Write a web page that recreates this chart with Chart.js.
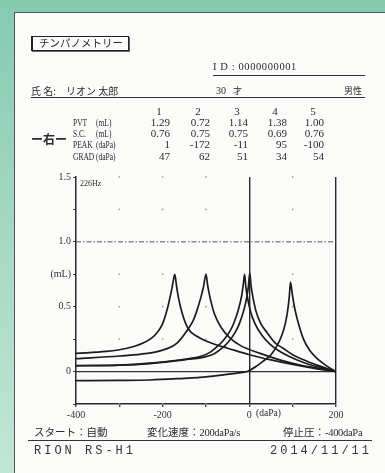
<!DOCTYPE html>
<html lang="ja">
<head>
<meta charset="UTF-8">
<title>チンパノメトリー</title>
<script src="https://cdn.jsdelivr.net/npm/chart.js"></script>
<style>
  html, body { margin: 0; padding: 0; }
  body {
    width: 385px; height: 473px; position: relative; overflow: hidden;
    background: linear-gradient(to bottom, #86cab2, #c2e6d7);
    font-family: "Liberation Serif", serif; color: #2a2a2a;
  }
  #paper {
    position: absolute; left: 14px; top: 12px; width: 371px; height: 461px;
    background: #fbfbfa; border-left: 1.5px solid #555; border-top: 1.5px solid #555;
  }
  #chart { position: absolute; left: 0; top: 0; z-index: 2; }
  .t { position: absolute; white-space: nowrap; font-size: 10px; line-height: 1; z-index: 3; }
  .jp { font-family: "Noto Sans CJK JP", sans-serif; }
  .nar { transform: scaleX(0.75); transform-origin: left center; }
  .num { font-size: 11px; text-align: right; width: 30px; }
  .hd { font-size: 11px; text-align: center; width: 12px; }
  .rule { position: absolute; height: 0; border-top: 1px solid #333; z-index: 3; }
  #title {
    left: 31px; top: 36px; padding: 1px 5px 1px 6px; font-size: 10.5px;
    border: 1px solid #222; border-left-width: 2px; box-shadow: 1px 1px 0 #666;
  }
  .mono { font-family: "Liberation Mono", monospace; font-size: 12px; letter-spacing: 3px; color: #333; }
</style>
</head>
<body>
<div id="paper"></div>

<div class="t jp" id="title">チンパノメトリー</div>

<div class="t" style="left:213px; top:62px; font-size:10.5px; letter-spacing:0.6px;">I D : 0000000001</div>
<div class="rule" style="left:213px; top:75px; width:152px;"></div>

<div class="t jp" style="left:31px; top:86px; font-size:10px;">氏&nbsp;名:</div>
<div class="t jp" style="left:66px; top:86px; font-size:10px;">リオン&nbsp;太郎</div>
<div class="t" style="left:216px; top:86px; font-size:10px;">30</div>
<div class="t jp" style="left:233px; top:86px; font-size:9px;">才</div>
<div class="t jp" style="left:344px; top:86px; font-size:9px;">男性</div>
<div class="rule" style="left:31px; top:97px; width:334px;"></div>

<div class="t hd" style="left:153px; top:106px;">1</div>
<div class="t hd" style="left:192px; top:106px;">2</div>
<div class="t hd" style="left:231px; top:106px;">3</div>
<div class="t hd" style="left:269px; top:106px;">4</div>
<div class="t hd" style="left:307px; top:106px;">5</div>

<div class="t jp" style="left:31px; top:133px; font-size:12px; font-weight:bold;">ー右ー</div>

<div id="table"></div>

<div class="t" style="left:80px; top:180px; font-size:8px; z-index:3;">226Hz</div>
<div class="t" style="left:256px; top:409px; font-size:9.5px;">(daPa)</div>

<div class="t jp" style="left:34px; top:427px; font-size:10.5px;">スタート：自動</div>
<div class="t jp" style="left:147px; top:427px; font-size:10.5px;">変化速度：<span style="font-family:'Liberation Serif',serif; letter-spacing:-0.3px;">200daPa/s</span></div>
<div class="t jp" style="left:283px; top:427px; font-size:10.5px;">停止圧：<span style="font-family:'Liberation Serif',serif; letter-spacing:-0.3px;">-400daPa</span></div>
<div class="rule" style="left:28px; top:440px; width:344px; border-top-width:1.5px;"></div>
<div class="t mono" style="left:34px; top:445px;">RION RS-H1</div>
<div class="t mono" style="left:270px; top:445px;">2014/11/11</div>

<canvas id="chart" width="385" height="473"></canvas>

<script>
// measurement table
var rowNames = ['PVT', 'S.C.', 'PEAK', 'GRAD'];
var rowUnits = ['(mL)', '(mL)', '(daPa)', '(daPa)'];
var pvt = ['1.29', '0.72', '1.14', '1.38', '1.00'];
var sc = ['0.76', '0.75', '0.75', '0.69', '0.76'];
var peak = ['1', '-172', '-11', '95', '-100'];
var grad = ['47', '62', '51', '34', '54'];

// axis ticks
var pressureTicks = [-400, -300, -200, -100, 0, 100, 200];
var pressureLabels = ['-400', '', '-200', '', '0', '', '200'];
var complianceTicks = [1.5, 1.25, 1.0, 0.75, 0.5, 0.25, 0, -0.25];
var complianceLabels = ['1.5', '', '1.0', '(mL)', '0.5', '', '0', ''];

// tympanogram curves (pressure daPa, compliance mL)
var curve1Pressure = [-400, -300, -230, -150, -100, -80, -63, -48, -33, -23, -13, -6, -2, 1, 4, 9, 15, 25, 41, 60, 78, 100, 133, 165, 200];
var curve1Value = [0.046, 0.05, 0.062, 0.09, 0.115, 0.14, 0.18, 0.23, 0.30, 0.37, 0.47, 0.57, 0.66, 0.76, 0.66, 0.56, 0.47, 0.38, 0.30, 0.22, 0.18, 0.13, 0.08, 0.04, 0];

var curve2Pressure = [-400, -330, -282, -245, -225, -213, -200, -188, -180, -176, -172, -168, -163, -155, -141, -120, -100, -75, -50, 0, 50, 100, 150, 200];
var curve2Value = [0.14, 0.155, 0.18, 0.22, 0.26, 0.30, 0.37, 0.50, 0.62, 0.69, 0.75, 0.66, 0.56, 0.45, 0.33, 0.27, 0.235, 0.205, 0.18, 0.13, 0.09, 0.055, 0.025, 0];

var curve3Pressure = [-400, -300, -230, -150, -110, -90, -75, -60, -45, -35, -25, -18, -14, -11, -8, -3, 3, 13, 29, 48, 66, 90, 125, 160, 200];
var curve3Value = [0.045, 0.05, 0.065, 0.095, 0.12, 0.15, 0.19, 0.24, 0.31, 0.38, 0.48, 0.58, 0.67, 0.75, 0.65, 0.55, 0.46, 0.37, 0.28, 0.21, 0.165, 0.12, 0.07, 0.035, 0];

var curve4Pressure = [-400, -300, -230, -150, -114, -60, -20, -5, 20, 32, 50, 64, 75, 83, 88, 92, 95, 99, 104, 111, 125, 140, 160, 180, 200];
var curve4Value = [-0.07, -0.068, -0.065, -0.052, -0.045, -0.025, -0.008, 0, 0.05, 0.08, 0.13, 0.20, 0.28, 0.37, 0.46, 0.57, 0.69, 0.60, 0.50, 0.40, 0.25, 0.16, 0.09, 0.04, 0];

var curve5Pressure = [-400, -300, -250, -206, -167, -141, -130, -121, -112, -106, -100, -96, -90, -80, -65, -45, -20, 25, 70, 117, 160, 200];
var curve5Value = [0.10, 0.12, 0.135, 0.16, 0.22, 0.33, 0.39, 0.47, 0.57, 0.65, 0.75, 0.66, 0.56, 0.44, 0.34, 0.26, 0.20, 0.14, 0.09, 0.05, 0.025, 0];

// reference marks
var dashLevel = 1.0;
var dotPressures = [-300, -200, -100, 100];
var dotLevels = [1.5, 1.25, 0.75, 0.5, 0.25, -0.25];

// build the table text
var colRight = [170, 210, 248, 287, 324];
var rowTop = [118, 129, 140, 152];
var rowValues = [pvt, sc, peak, grad];
var html = '';
for (var r = 0; r < rowNames.length; r++) {
    html += '<div class="t nar" style="left:73px; top:' + rowTop[r] + 'px;">' + rowNames[r] + '</div>';
    html += '<div class="t nar" style="left:96px; top:' + rowTop[r] + 'px;">' + rowUnits[r] + '</div>';
    for (var c = 0; c < 5; c++) {
        html += '<div class="t num" style="left:' + (colRight[c] - 30) + 'px; top:' + (rowTop[r] - 1) + 'px;">' + rowValues[r][c] + '</div>';
    }
}
document.getElementById('table').innerHTML = html;

function toPoints(px, py) {
    var pts = [];
    for (var i = 0; i < px.length; i++) pts.push({ x: px[i], y: py[i] });
    return pts;
}

var curves = [
    [curve1Pressure, curve1Value],
    [curve2Pressure, curve2Value],
    [curve3Pressure, curve3Value],
    [curve4Pressure, curve4Value],
    [curve5Pressure, curve5Value]
];

var datasets = curves.map(function (c, i) {
    return {
        label: String(i + 1),
        data: toPoints(c[0], c[1]),
        borderColor: '#1c1c1c',
        borderWidth: 1.7,
        pointRadius: 0,
        fill: false,
        cubicInterpolationMode: 'monotone'
    };
});

// zero line, dash-dot 1.0 line and grid dots
var refLines = {
    id: 'refLines',
    beforeDatasetsDraw: function (chart) {
        var ctx = chart.ctx, a = chart.chartArea;
        var xs = chart.scales.x, ys = chart.scales.y;
        ctx.save();
        ctx.strokeStyle = '#333';
        ctx.lineWidth = 1.2;
        var y0 = ys.getPixelForValue(0);
        ctx.beginPath(); ctx.moveTo(a.left, y0); ctx.lineTo(a.right, y0); ctx.stroke();
        ctx.lineWidth = 1;
        ctx.strokeStyle = '#555';
        ctx.setLineDash([5, 2, 1.5, 2]);
        var y1 = ys.getPixelForValue(dashLevel);
        ctx.beginPath(); ctx.moveTo(a.left, y1); ctx.lineTo(a.right, y1); ctx.stroke();
        ctx.setLineDash([]);
        ctx.fillStyle = '#999';
        dotPressures.forEach(function (p) {
            dotLevels.forEach(function (v) {
                ctx.fillRect(xs.getPixelForValue(p) - 0.75, ys.getPixelForValue(v) - 0.75, 1.5, 1.5);
            });
        });
        ctx.restore();
    }
};

var tickFont = { family: 'Liberation Serif', size: 10 };

new Chart(document.getElementById('chart').getContext('2d'), {
    type: 'line',
    data: { datasets: datasets },
    plugins: [refLines],
    options: {
        responsive: false,
        animation: false,
        layout: { padding: { left: 46, right: 49, top: 177, bottom: 49 } },
        plugins: { legend: { display: false }, tooltip: { enabled: false } },
        scales: {
            x: {
                type: 'linear', min: -400, max: 200,
                ticks: {
                    stepSize: 100, autoSkip: false, maxRotation: 0, padding: 2,
                    color: '#333', font: tickFont,
                    callback: function (v) {
                        var i = pressureTicks.indexOf(v);
                        return i < 0 ? '' : pressureLabels[i];
                    }
                },
                grid: {
                    color: function (c) {
                        return (c.tick && (c.tick.value === 0 || c.tick.value === 200)) ? '#2a2a2a' : 'rgba(0,0,0,0)';
                    },
                    lineWidth: 1.4, tickColor: '#444', tickLength: 3
                },
                border: { color: '#2a2a2a', width: 1.5 },
                afterFit: function (s) { s.height = 20; }
            },
            y: {
                min: -0.25, max: 1.5,
                ticks: {
                    stepSize: 0.25, autoSkip: false, padding: 2,
                    color: '#333', font: tickFont,
                    callback: function (v) {
                        var i = complianceTicks.indexOf(v);
                        return i < 0 ? '' : complianceLabels[i];
                    }
                },
                grid: { drawOnChartArea: false, tickColor: '#444', tickLength: 3 },
                border: { color: '#2a2a2a', width: 1.5 },
                afterFit: function (s) { s.width = 30; }
            }
        }
    }
});
</script>
</body>
</html>
